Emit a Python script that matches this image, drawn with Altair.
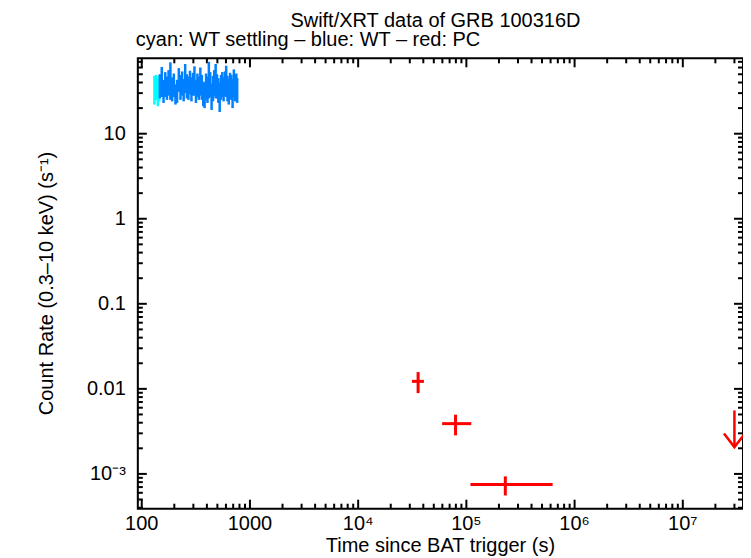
import math
import altair as alt
import pandas as pd

# ---------------- data ----------------
cyan_t = [131, 136, 141, 145]
cyan_rate = [35, 37, 33, 36]
cyan_err = [13, 12, 12, 12]

blue_t = [147, 153, 159, 165, 171, 177, 184, 191, 198, 205, 212, 220, 228, 236,
          244, 252, 261, 270, 279, 288, 297, 307, 317, 327, 337, 348, 359, 370,
          381, 393, 405, 417, 429, 442, 455, 468, 482, 496, 510, 525, 540, 555,
          571, 587, 603, 620, 637, 655, 673, 691, 710, 729, 748, 762]
blue_rate = [38, 44, 33, 40, 36, 42, 47, 35, 39, 30, 33, 45, 37, 41,
             34, 48, 38, 36, 42, 35, 40, 45, 33, 39, 36, 44, 37, 31,
             30, 38, 35, 48, 40, 29, 36, 42, 46, 38, 34, 29, 37, 40,
             35, 41, 45, 36, 33, 39, 37, 32, 42, 36, 38, 34]
blue_err = [12, 17, 10, 13, 11, 14, 22, 11, 12, 8, 10, 14, 12, 13,
            10, 18, 12, 11, 13, 11, 12, 17, 10, 12, 11, 16, 12, 10,
            10, 13, 12, 22, 13, 10, 12, 14, 20, 12, 11, 11, 12, 13,
            11, 13, 18, 12, 11, 13, 12, 12, 15, 12, 13, 11]

pc_t = [35800, 79400, 229000]
pc_t_lo = [31400, 59700, 109000]
pc_t_hi = [40500, 111000, 627000]
pc_rate = [0.01225, 0.0039, 0.000752]
pc_rate_lo = [0.00892, 0.00284, 0.000558]
pc_rate_hi = [0.01576, 0.00497, 0.000935]

ul_t = [3.0e7]
ul_rate = [0.00558]

x_major = [100, 1000, 1e4, 1e5, 1e6, 1e7]
x_labels = ["100", "1000", "10\u2074", "10\u2075", "10\u2076", "10\u2077"]
x_minor = [200, 300, 400, 500, 600, 700, 800, 900,
           2000, 3000, 4000, 5000, 6000, 7000, 8000, 9000,
           2e4, 3e4, 4e4, 5e4, 6e4, 7e4, 8e4, 9e4,
           2e5, 3e5, 4e5, 5e5, 6e5, 7e5, 8e5, 9e5,
           2e6, 3e6, 4e6, 5e6, 6e6, 7e6, 8e6, 9e6,
           2e7, 3e7]
y_major = [1e-3, 0.01, 0.1, 1, 10]
y_labels = ["10\u207b\u00b3", "0.01", "0.1", "1", "10"]
y_minor = [4e-4, 5e-4, 6e-4, 7e-4, 8e-4, 9e-4,
           2e-3, 3e-3, 4e-3, 5e-3, 6e-3, 7e-3, 8e-3, 9e-3,
           0.02, 0.03, 0.04, 0.05, 0.06, 0.07, 0.08, 0.09,
           0.2, 0.3, 0.4, 0.5, 0.6, 0.7, 0.8, 0.9,
           2, 3, 4, 5, 6, 7, 8, 9,
           20, 30, 40, 50, 60, 70]

title_text = "Swift/XRT data of GRB 100316D"
subtitle_text = "cyan: WT settling \u2013 blue: WT \u2013 red: PC"
x_title = "Time since BAT trigger (s)"
y_title = "Count Rate (0.3\u201310 keV) (s\u207b\u00b9)"

# ---------------- layout / style ----------------
W, H = 606, 451
FONT = "Liberation Sans"
FS = 20
CYAN = "#00ffff"
BLUE = "#0080ff"
RED = "#ff0000"
MAJOR, MINOR = 9, 5
XMIN, XMAX = 92, 3.6e7
YMIN, YMAX = 3.9e-4, 77

xscale = alt.Scale(type="log", domain=[XMIN, XMAX], nice=False)
yscale = alt.Scale(type="log", domain=[YMIN, YMAX], nice=False)

cyan_df = pd.DataFrame({"t": cyan_t, "rate": cyan_rate, "err": cyan_err})
cyan_df["lo"] = cyan_df["rate"] - cyan_df["err"]
cyan_df["hi"] = cyan_df["rate"] + cyan_df["err"]
blue_df = pd.DataFrame({"t": blue_t, "rate": blue_rate, "err": blue_err})
blue_df["lo"] = blue_df["rate"] - blue_df["err"]
blue_df["hi"] = blue_df["rate"] + blue_df["err"]
pc_df = pd.DataFrame({"t": pc_t, "tlo": pc_t_lo, "thi": pc_t_hi,
                      "rate": pc_rate, "lo": pc_rate_lo, "hi": pc_rate_hi})
ul_df = pd.DataFrame({"t": ul_t, "rate": ul_rate})
ul_df["tip"] = ul_df["rate"] / 2.7  # arrow length (style)

# ---- inward tick segments (tick values from the lists above; pixel
# lengths converted to factors of the log scales) ----
PPD_X = W / math.log10(XMAX / XMIN)
PPD_Y = H / math.log10(YMAX / YMIN)
rows = []
for vals, size in ((x_major, MAJOR), (x_minor, MINOR)):
    f = 10 ** (size / PPD_Y)
    for v in vals:
        rows.append({"a": v, "a2": v, "b": YMIN, "b2": YMIN * f})
        rows.append({"a": v, "a2": v, "b": YMAX, "b2": YMAX / f})
for vals, size in ((y_major, MAJOR), (y_minor, MINOR)):
    f = 10 ** (size / PPD_X)
    for v in vals:
        rows.append({"a": XMIN, "a2": XMIN * f, "b": v, "b2": v})
        rows.append({"a": XMAX, "a2": XMAX / f, "b": v, "b2": v})
tick_df = pd.DataFrame(rows)

xlab_df = pd.DataFrame({"v": x_major, "lab": x_labels})
xlab_df["edge"] = YMIN
ylab_df = pd.DataFrame({"v": y_major, "lab": y_labels})
ylab_df["edge"] = XMIN


def X(field):
    return alt.X(field, scale=xscale, axis=None)


def Y(field):
    return alt.Y(field, scale=yscale, axis=None)


cyan_layer = alt.Chart(cyan_df).mark_rule(color=CYAN, strokeWidth=2.5).encode(
    x=X("t:Q"), y=Y("lo:Q"), y2="hi:Q",
)
tick_layer = alt.Chart(tick_df).mark_rule(color="#000000", strokeWidth=2).encode(
    x=X("a:Q"), x2="a2:Q", y=Y("b:Q"), y2="b2:Q",
)
blue_layer = alt.Chart(blue_df).mark_rule(color=BLUE, strokeWidth=2.5).encode(
    x=X("t:Q"), y=Y("lo:Q"), y2="hi:Q",
)
pc_v = alt.Chart(pc_df).mark_rule(color=RED, strokeWidth=3).encode(
    x=X("t:Q"), y=Y("lo:Q"), y2="hi:Q",
)
pc_h = alt.Chart(pc_df).mark_rule(color=RED, strokeWidth=3).encode(
    x=X("tlo:Q"), x2="thi:Q", y=Y("rate:Q"),
)
ul_line = alt.Chart(ul_df).mark_rule(color=RED, strokeWidth=2.5).encode(
    x=X("t:Q"), y=Y("rate:Q"), y2="tip:Q",
)
ul_head = alt.Chart(ul_df).mark_point(
    shape="M -1 -1.3 L 0 0 L 1 -1.3", size=441, filled=False,
    stroke=RED, strokeWidth=2.5, opacity=1
).encode(
    x=X("t:Q"), y=Y("tip:Q"),
)

# tick labels placed through the scales
xlab_layer = alt.Chart(xlab_df).mark_text(
    font=FONT, fontSize=FS, color="black", align="center", baseline="top", dy=5
).encode(x=X("v:Q"), y=Y("edge:Q"), text="lab:N")
ylab_layer = alt.Chart(ylab_df).mark_text(
    font=FONT, fontSize=FS, color="black", align="right", baseline="middle", dx=-12
).encode(x=X("edge:Q"), y=Y("v:Q"), text="lab:N")

txt_data = alt.Data(values=[{"k": 1}])
title_layer = alt.Chart(txt_data).mark_text(
    text=title_text, font=FONT, fontSize=FS, color="black",
    align="center", baseline="alphabetic"
).encode(x=alt.value(W / 2 - 5), y=alt.value(-31))
subtitle_layer = alt.Chart(txt_data).mark_text(
    text=subtitle_text, font=FONT, fontSize=FS, color="black",
    align="left", baseline="alphabetic"
).encode(x=alt.value(-2), y=alt.value(-12))
xtitle_layer = alt.Chart(txt_data).mark_text(
    text=x_title, font=FONT, fontSize=FS, color="black",
    align="center", baseline="alphabetic"
).encode(x=alt.value(W / 2), y=alt.value(H + 43))
ytitle_layer = alt.Chart(txt_data).mark_text(
    text=y_title, font=FONT, fontSize=FS, color="black",
    align="center", baseline="middle", angle=270
).encode(x=alt.value(-91), y=alt.value(H / 2))

chart = alt.layer(
    cyan_layer, tick_layer, blue_layer, pc_v, pc_h, ul_line, ul_head,
    xlab_layer, ylab_layer,
    title_layer, subtitle_layer, xtitle_layer, ytitle_layer,
).properties(
    width=W, height=H,
    autosize=alt.AutoSizeParams(type="none"),
    padding={"left": 130, "top": 50, "right": 0, "bottom": 48},
    background="white",
).configure_view(
    stroke="black", strokeWidth=2
)

chart.save("out.html", embed_options={"renderer": "svg", "actions": False})
